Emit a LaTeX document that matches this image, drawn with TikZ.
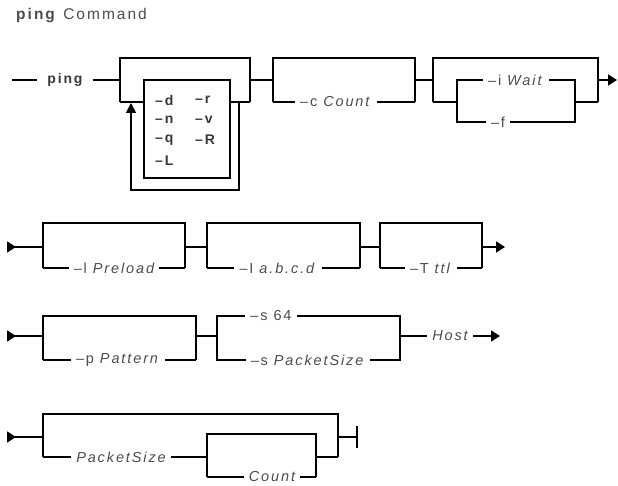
\documentclass[tikz,border=0pt]{standalone}
\usepackage{fontspec}
\setmainfont{Liberation Sans}[LetterSpace=13]
\usepackage{tikz}
\usetikzlibrary{arrows.meta}

\begin{document}
\begin{tikzpicture}[x=1pt, y=-1pt,
  rail/.style={line width=1.6pt, black},
  bypass/.style={line width=2.5pt, black},
  lbl/.style={font=\fontsize{14.5}{16}\selectfont, text=black!70, inner xsep=5pt, inner ysep=2pt},
  arg/.style={lbl, font=\fontsize{14.5}{16}\selectfont\itshape},
  kw/.style={font=\fontsize{14}{16}\selectfont\bfseries, text=black!78, inner xsep=10pt},
  opt/.style={anchor=west, font=\fontsize{14}{16}\selectfont\bfseries, text=black!78, inner sep=0pt},
  endarr/.style={-{Triangle[length=9pt, width=11pt]}},
  startmark/.style={{Triangle[reversed, length=9pt, width=11pt]}-},
  loopar/.style={-{Triangle[length=10pt, width=10pt]}}
]
\useasboundingbox (0,0) rectangle (618,486);

% title
\node[anchor=west, font=\fontsize{15.5}{17}\selectfont, text=black!70, inner sep=0pt] (title) at (16,16)
  {\textbf{ping} Command};

% ---- row 1 ----
\coordinate (r1in) at (12,80);
\node[kw] (ping) at (65,80) {ping};
\draw[rail] (r1in) -- (ping.west);
\draw[rail] (ping.east) -- (120,80);

% repeatable flags
\coordinate (g1bl) at (120,102);
\node[draw, line width=1.6pt, anchor=north west, minimum width=86pt, minimum height=98pt, inner sep=0pt] (opts) at (143,79) {};
\node[opt] (od) at (155,100) {--d};
\node[opt] (on) at (155,120) {--n};
\node[opt] (oq) at (155,140) {--q};
\node[opt] (oL) at (155,161) {--L};
\node[opt] (or) at (195,100) {--r};
\node[opt] (ov) at (195,120) {--v};
\node[opt] (oR) at (195,140) {--R};
\draw[bypass] (g1bl) |- (250,58) -- (250,102);
\draw[rail] (g1bl) -- (opts.west |- g1bl);
\draw[rail] (opts.east |- g1bl) -- (250,102);
\draw[rail, loopar] (239,102) |- (131,190) -- (131,103);
\draw[rail] (250,80) -- (273,80);

% -c Count
\node[lbl] (cnt) at (336,102) {--c \textit{Count}};
\draw[bypass] (273,102) |- (415,58) -- (415,102);
\draw[rail] (273,102) -- (cnt.west);
\draw[rail] (cnt.east) -- (415,102);
\draw[rail] (415,80) -- (433,80);

% -i Wait / -f
\node[lbl] (wait) at (516,80) {--i \textit{Wait}};
\node[lbl] (flood) at (498,122) {--f};
\draw[bypass] (433,102) |- (598,58) -- (598,102);
\draw[rail] (433,102) -- (457,102);
\draw[rail] (wait.west) -| (457,122) -- (flood.west);
\draw[rail] (wait.east) -| (575,122) -- (flood.east);
\draw[rail] (575,102) -- (598,102);
\coordinate (r1out) at (617,80);
\draw[rail, endarr] (598,80) -- (r1out);

% ---- row 2 ----
\coordinate (r2in) at (7,247);
\draw[rail, startmark] (r2in) -- (43,247);
\node[arg] (pre) at (114,268) {\upshape--l \itshape Preload};
\draw[bypass] (43,268) |- (185,223) -- (185,268);
\draw[rail] (43,268) -- (pre.west);
\draw[rail] (pre.east) -- (185,268);
\draw[rail] (185,247) -- (207,247);

\node[lbl] (iface) at (278,268) {--I \textit{a.b.c.d}};
\draw[bypass] (207,268) |- (360,223) -- (360,268);
\draw[rail] (207,268) -- (iface.west);
\draw[rail] (iface.east) -- (360,268);
\draw[rail] (360,247) -- (380,247);

\node[lbl] (ttl) at (431,268) {--T \textit{ttl}};
\draw[bypass] (380,268) |- (482,223) -- (482,268);
\draw[rail] (380,268) -- (ttl.west);
\draw[rail] (ttl.east) -- (482,268);
\coordinate (r2out) at (505,247);
\draw[rail, endarr] (482,247) -- (r2out);

% ---- row 3 ----
\coordinate (r3in) at (7,336);
\draw[rail, startmark] (r3in) -- (43,336);
\node[lbl] (pat) at (118,360) {--p \textit{Pattern}};
\draw[bypass] (43,360) |- (196,316) -- (196,360);
\draw[rail] (43,360) -- (pat.west);
\draw[rail] (pat.east) -- (196,360);
\draw[rail] (196,336) -- (217,336);

\node[lbl] (s64) at (271,316) {--s 64};
\node[lbl] (psize) at (308,360) {--s \textit{PacketSize}};
\draw[rail] (s64.west) -| (217,360) -- (psize.west);
\draw[rail] (s64.east) -| (400,360) -- (psize.east);
\node[arg] (host) at (450,336) {Host};
\draw[rail] (400,336) -- (host.west);
\coordinate (r3out) at (500,336);
\draw[rail, endarr] (host.east) -- (r3out);

% ---- row 4 ----
\coordinate (r4in) at (7,437);
\draw[rail, startmark] (r4in) -- (43,437);
\node[arg] (psz) at (121,457) {PacketSize};
\draw[bypass] (43,457) |- (338,414) -- (338,457);
\draw[rail] (43,457) -- (psz.west);
\draw[rail] (psz.east) -- (207,457);

\node[arg] (cnt2) at (272,477) {Count};
\draw[bypass] (207,477) |- (316,434) -- (316,477);
\draw[rail] (207,477) -- (cnt2.west);
\draw[rail] (cnt2.east) -- (316,477);
\draw[rail] (316,457) -- (338,457);
\coordinate (r4end) at (358,437);
\draw[rail, -{Bar[width=22pt, line width=1.6pt]}] (338,437) -- (r4end);
\end{tikzpicture}
\end{document}
